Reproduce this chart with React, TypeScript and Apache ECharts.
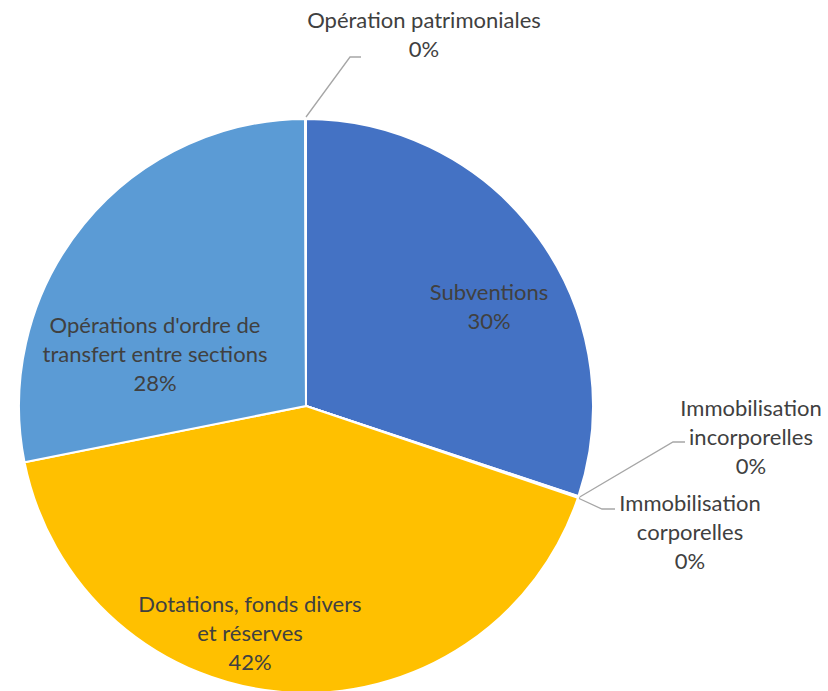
import React, { useEffect, useRef } from "react";
import * as echarts from "echarts";

const categories = [
  "Subventions",
  "Immobilisation\nincorporelles",
  "Immobilisation\ncorporelles",
  "Dotations, fonds divers\net réserves",
  "Opérations d'ordre de\ntransfert entre sections",
  "Opération patrimoniales",
];
const values = [30.1, 0.05, 0.05, 41.7, 28.1, 0.05];
const colors = ["#4472C4", "#ED7D31", "#A5A5A5", "#FFC000", "#5B9BD5", "#70AD47"];
const insideLabel = [true, false, false, true, true, false];

export default function App() {
  const ref = useRef<HTMLDivElement>(null);
  useEffect(() => {
    if (!ref.current) return;
    const chart = echarts.init(ref.current, undefined, { renderer: "svg" });
    // label layout (centre of each label block) and leader lines
    const labelPos: Record<number, { x: number; y: number; line?: number[][] }> = {
      0: { x: 489, y: 306 },
      1: { x: 751, y: 436, line: [[578, 498], [673, 442], [685, 442]] },
      2: { x: 690, y: 531, line: [[578, 498], [602, 509], [615, 509]] },
      3: { x: 250, y: 632 },
      4: { x: 155, y: 353 },
      5: { x: 424, y: 34, line: [[306, 117], [350, 57], [361, 57]] },
    };
    chart.setOption({
      animation: false,
      series: [
        {
          type: "pie",
          center: [306, 406],
          radius: 287,
          startAngle: 90,
          clockwise: true,
          avoidLabelOverlap: false,
          itemStyle: { borderColor: "#ffffff", borderWidth: 2 },
          label: {
            color: "#404040",
            fontFamily: "Lato",
            fontSize: 22,
            lineHeight: 29,
            align: "center",
            formatter: (p: any) => `${p.name}\n${Math.round(p.percent)}%`,
          },
          labelLine: { show: true, lineStyle: { color: "#A6A6A6", width: 1.3 } },
          labelLayout: (p: any) => {
            const l = labelPos[p.dataIndex];
            const r: any = { x: l.x, y: l.y, align: "center", verticalAlign: "middle" };
            if (l.line) r.labelLinePoints = l.line;
            return r;
          },
          data: categories.map((name, i) => ({
            name,
            value: values[i],
            itemStyle: { color: colors[i] },
            label: { position: insideLabel[i] ? "inside" : "outside" },
            labelLine: { show: !insideLabel[i] },
          })),
        },
      ],
    });
    return () => chart.dispose();
  }, []);
  return (
    <div
      ref={ref}
      style={{ position: "fixed", left: 0, top: 0, width: 828, height: 691, background: "#fff" }}
    />
  );
}
